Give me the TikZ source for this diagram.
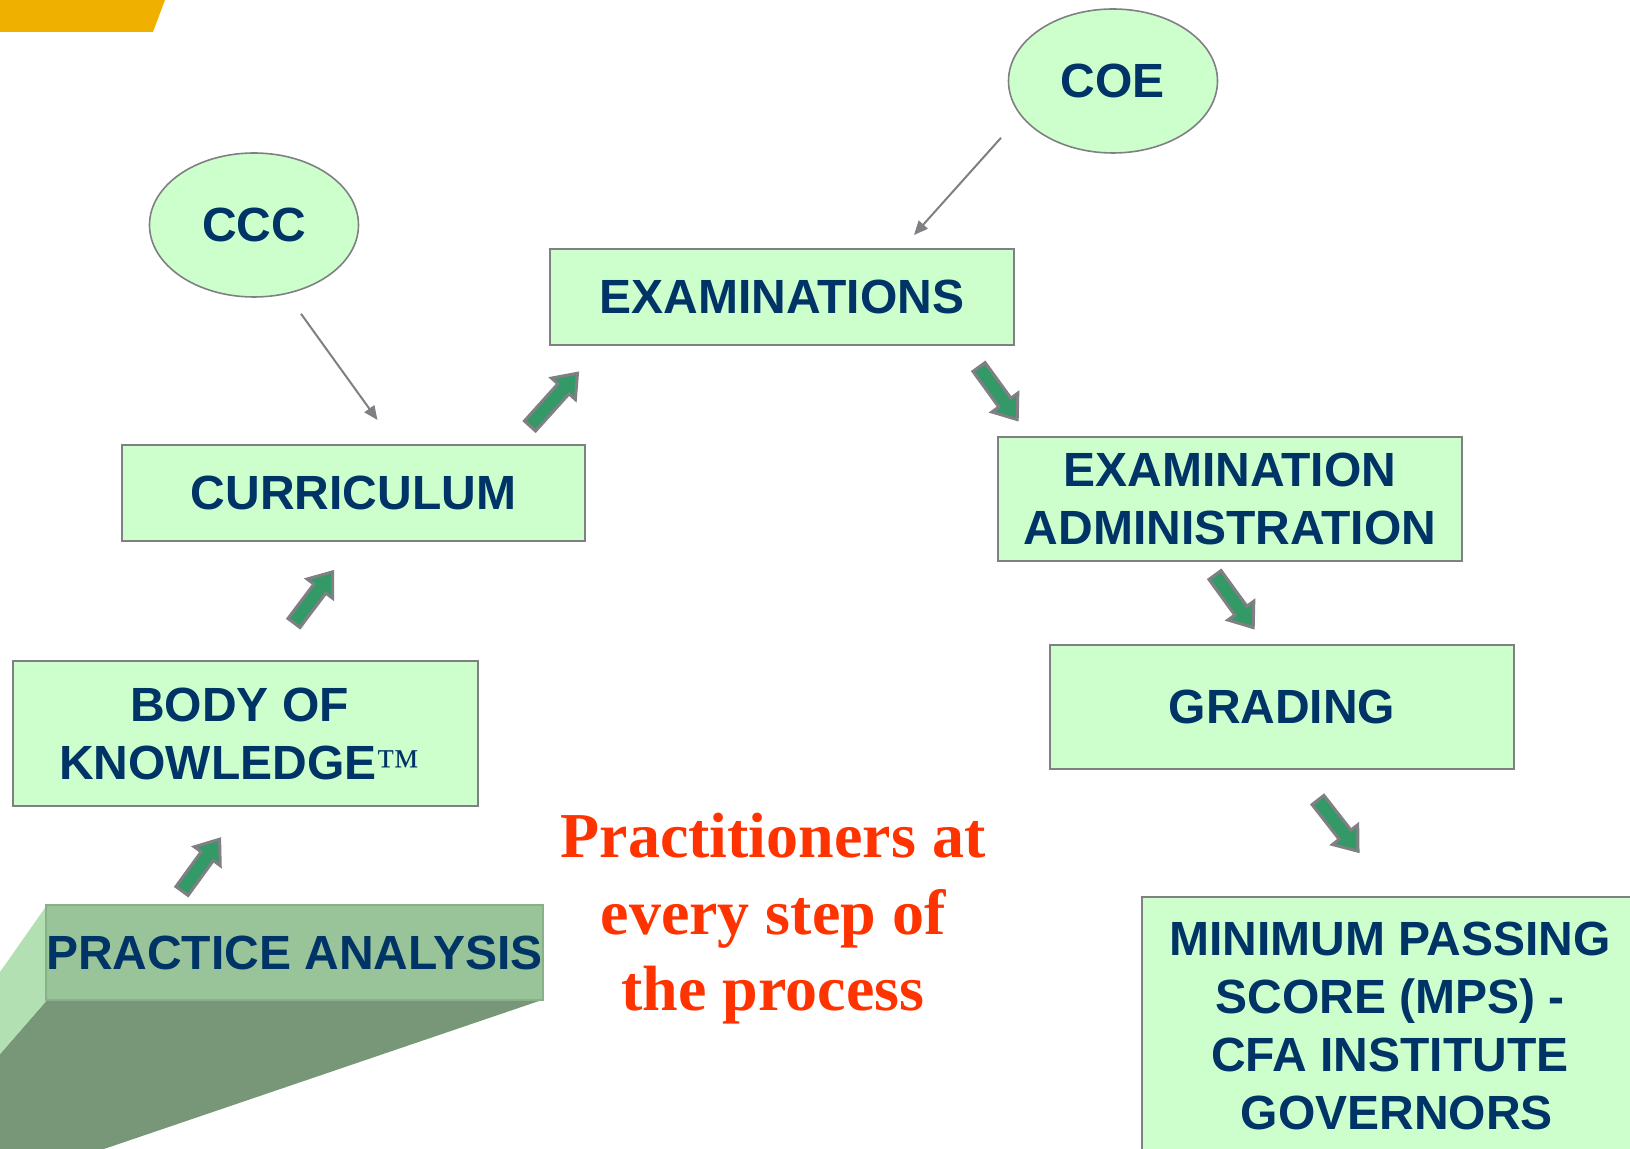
\documentclass[tikz,border=0pt]{standalone}
\usepackage{fontspec}
\setmainfont{Liberation Serif}
\setsansfont{Liberation Sans}
\usetikzlibrary{shapes.geometric,arrows.meta}
\definecolor{boxgreen}{RGB}{204,255,204}
\definecolor{edgegray}{RGB}{128,128,132}
\definecolor{navy}{RGB}{0,51,102}
\definecolor{arrowgreen}{RGB}{51,153,102}
\definecolor{notered}{RGB}{255,51,0}
\definecolor{barorange}{RGB}{240,176,0}
\definecolor{paface}{RGB}{153,196,153}
\definecolor{paside}{RGB}{179,224,179}
\definecolor{pashade}{RGB}{120,150,120}
\tikzstyle{stepbox} = [rectangle,draw=edgegray,line width=1pt,fill=boxgreen,text=navy,
    font=\sffamily\bfseries\fontsize{24}{29}\selectfont,align=center,inner sep=0pt]
\tikzstyle{ovalbox} = [ellipse,draw=edgegray,line width=0.8pt,fill=boxgreen,text=navy,
    font=\sffamily\bfseries\fontsize{24}{29}\selectfont,minimum width=104.5pt,minimum height=72pt,inner sep=0pt]
\tikzstyle{thinarrow} = [draw=edgegray,line width=1pt,-{Triangle[length=7pt,width=6pt]}]
\tikzstyle{bigarrow} = [draw=edgegray,line width=1.5pt,fill=arrowgreen,line join=miter]
\newcommand{\garrow}[3]{
    \begin{scope}[shift={(#1)},rotate=#2]
	\draw[bigarrow] (0,-7.5) -- (#3-21,-7.5) -- (#3-21,-16) -- (#3,0) -- (#3-21,16) -- (#3-21,7.5) -- (0,7.5) -- cycle;
    \end{scope}
}
\begin{document}
\begin{tikzpicture}[x=0.5pt,y=-0.5pt]
	\useasboundingbox (0,0) rectangle (1630,1149);
	\fill[barorange] (0,0) -- (165,0) -- (153,32) -- (0,32) -- cycle;

	\node(coe) at (1113,81) [ovalbox] {COE};
	\node(ccc) at (254,225) [ovalbox] {CCC};

	\node(exam) at (782,297) [stepbox,minimum width=232pt,minimum height=48pt] {EXAMINATIONS};
	\node(cur) at (353.5,493) [stepbox,minimum width=231.5pt,minimum height=48pt] {CURRICULUM};
	\node(bok) at (245.5,733.5) [stepbox,minimum width=232.5pt,minimum height=72.5pt] {BODY OF\hspace*{6pt}\\KNOWLEDGE{\rmfamily\mdseries\fontsize{22}{29}\selectfont ™}\hspace*{6pt}};
	\node(adm) at (1230,499) [stepbox,minimum width=232pt,minimum height=62pt] {EXAMINATION\\ADMINISTRATION};
	\node(grd) at (1282,707) [stepbox,minimum width=232pt,minimum height=62pt] {GRADING};
	\node(mps) at (1390,1026) [stepbox,minimum width=248pt,minimum height=129pt] {MINIMUM PASSING\\SCORE (MPS) -\\CFA INSTITUTE\\\hspace*{6.7pt}GOVERNORS};

	% practice analysis block
	\fill[pashade] (47,1000) -- (542,1000) -- (104,1149) -- (0,1149) -- (0,1054) -- cycle;
	\fill[paside] (47,905) -- (47,1000) -- (0,1054) -- (0,972) -- cycle;
	\node(pa) at (294.5,952.5) [stepbox,draw=paface!90!black,line width=0.6pt,fill=paface,minimum width=247.5pt,minimum height=47.5pt] {PRACTICE ANALYSIS};

	\node(note) at (773,919) [text=notered,align=center,font=\rmfamily\bfseries\fontsize{32}{38.2}\selectfont] {Practitioners at\\every step of\\the process};

	\draw[thinarrow] ([shift={(47,16)}]ccc.south) -- ([shift={(24,-24)}]cur.north);
	\draw[thinarrow] ([shift={(-112,-16)}]coe.south) -- ([shift={(132,-13)}]exam.north);

	\garrow{182,891}{54}{64}
	\garrow{294,623}{53}{64}
	\garrow{530,426}{48}{71}
	\garrow{979,367}{-54}{65}
	\garrow{1215,575}{-54}{65}
	\garrow{1318,800}{-52}{65}
\end{tikzpicture}
\end{document}
